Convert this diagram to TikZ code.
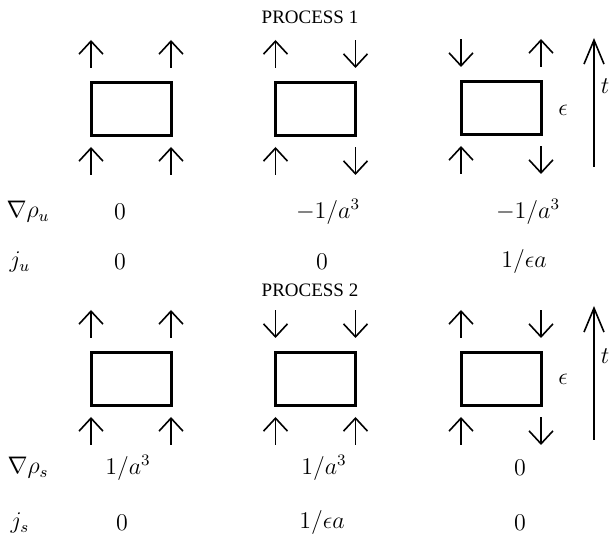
\documentclass[tikz,border=0pt]{standalone}
\usepackage{fontspec}
\newfontfamily\timesf{Liberation Serif}
\usetikzlibrary{arrows.meta}
\begin{document}
\begin{tikzpicture}[x=0.5pt,y=-0.5pt,
  cell/.style={draw,line width=1.5pt,minimum width=40pt,minimum height=26.5pt,inner sep=0pt,outer sep=0pt},
  spinup/.style={line width=0.8pt,-{Straight Barb[length=6.5pt,width=12pt]}},
  spindown/.style={line width=0.8pt,{Straight Barb[length=6.5pt,width=12pt]}-},
  timearrow/.style={line width=0.8pt,-{Straight Barb[length=12pt,width=10pt]}},
  title/.style={font=\timesf\fontsize{9.5}{11}\selectfont,inner sep=0pt},
  val/.style={font=\fontsize{12}{14}\selectfont,inner sep=0pt}]
\useasboundingbox (0,0) rectangle (610,544);

% titles
\node[title] (p1) at (310,17) {PROCESS 1};
\node[title] (p2) at (310,290) {PROCESS 2};

% boxes
\node[cell] (b11) at (131,109.5) {};
\node[cell] (b12) at (315.5,109.5) {};
\node[cell] (b13) at (501,108.5) {};
\node[cell] (b21) at (131,379.5) {};
\node[cell] (b22) at (315.5,379.5) {};
\node[cell] (b23) at (501,379.5) {};

% top arrows
\foreach \p in {b11.north west,b11.north east,b12.north west,b13.north east,b21.north west,b21.north east,b23.north west}
  \draw[spinup] ([yshift=7.5pt]\p) -- ([yshift=21.5pt]\p);
\foreach \p in {b12.north east,b13.north west,b22.north west,b22.north east,b23.north east}
  \draw[spindown] ([yshift=7.5pt]\p) -- ([yshift=21.5pt]\p);
% bottom arrows
\foreach \p in {b11.south west,b11.south east,b12.south west,b13.south west,b21.south west,b21.south east,b22.south west,b22.south east,b23.south west}
  \draw[spinup] ([yshift=-19.5pt]\p) -- ([yshift=-5.5pt]\p);
\foreach \p in {b12.south east,b13.south east,b23.south east}
  \draw[spindown] ([yshift=-19.5pt]\p) -- ([yshift=-5.5pt]\p);

% time arrows
\coordinate (t1s) at (594,167);
\coordinate (t1e) at (594,38);
\coordinate (t2s) at (594,440);
\coordinate (t2e) at (594,306);
\draw[timearrow] (t1s) -- (t1e);
\draw[timearrow] (t2s) -- (t2e);
\node[val] (tl1) at (605,86) {$t$};
\node[val] (tl2) at (605,356) {$t$};
\node[val] (e1) at (563,110) {$\epsilon$};
\node[val] (e2) at (563,379) {$\epsilon$};

% table 1
\node[val] (ru) at (28,212) {$\nabla\rho_u$};
\node[val] (ju) at (20,262) {$j_u$};
\node[val] (ru1) at (120,212) {$0$};
\node[val] (ru2) at (328,212) {$-1/a^3$};
\node[val] (ru3) at (528,212) {$-1/a^3$};
\node[val] (ju1) at (120,262) {$0$};
\node[val] (ju2) at (322,262) {$0$};
\node[val] (ju3) at (524,262) {$1/\epsilon a$};

% table 2
\node[val] (rs) at (28,468) {$\nabla\rho_s$};
\node[val] (js) at (20,523) {$j_s$};
\node[val] (rs1) at (128,468) {$1/a^3$};
\node[val] (rs2) at (324,468) {$1/a^3$};
\node[val] (rs3) at (520,468) {$0$};
\node[val] (js1) at (122,523) {$0$};
\node[val] (js2) at (322,523) {$1/\epsilon a$};
\node[val] (js3) at (520,523) {$0$};
\end{tikzpicture}
\end{document}
